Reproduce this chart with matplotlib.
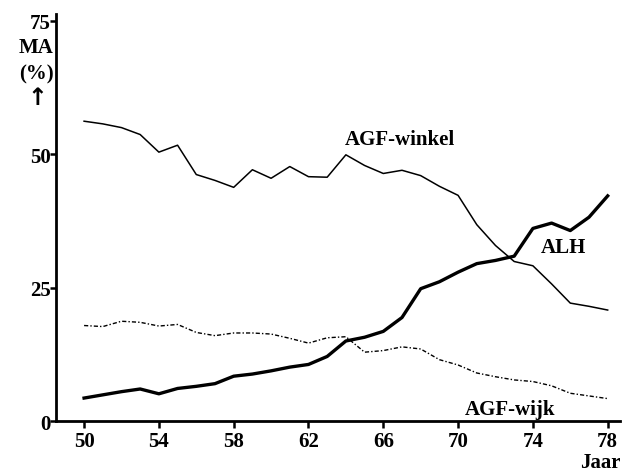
import matplotlib
matplotlib.use('Agg')
import matplotlib.pyplot as plt

plt.rcParams['font.family'] = ['Liberation Serif', 'DejaVu Serif']
plt.rcParams['font.weight'] = 'bold'

# Gegevens (jaar 1950-1978)
jaren = list(range(50, 79))
agf_winkel = [56.2, 55.7, 55.0, 53.7, 50.4, 51.7, 46.2, 45.1, 43.8, 47.1,
              45.5, 47.7, 45.8, 45.7, 49.9, 47.9, 46.4, 47.0, 46.0, 44.0,
              42.3, 36.8, 32.9, 29.9, 29.1, 25.7, 22.1, 21.5, 20.8]
alh = [4.3, 4.9, 5.5, 6.0, 5.1, 6.1, 6.5, 7.0, 8.4, 8.8,
       9.4, 10.1, 10.6, 12.1, 15.0, 15.7, 16.8, 19.4, 24.8, 26.1,
       27.9, 29.5, 30.1, 30.9, 36.1, 37.1, 35.7, 38.2, 42.2]
agf_wijk = [17.9, 17.7, 18.7, 18.5, 17.8, 18.1, 16.6, 16.0, 16.5, 16.5,
            16.3, 15.5, 14.6, 15.6, 15.8, 12.9, 13.2, 13.9, 13.5, 11.5,
            10.5, 9.0, 8.3, 7.7, 7.4, 6.6, 5.2, 4.7, 4.2]
x_ticks = [50, 54, 58, 62, 66, 70, 74, 78]
y_ticks = [0, 25, 50, 75]

fig = plt.figure(figsize=(6.41, 4.77), dpi=100)
ax = fig.add_axes([0.0874, 0.1153, 0.8796, 0.8533])

ax.plot(jaren, agf_winkel, color='black', lw=1.1)
ax.plot(jaren, alh, color='black', lw=2.4)
ax.plot(jaren, agf_wijk, color='black', lw=1.0, linestyle=(0, (3, 1.5, 1, 1.5)))

ax.set_xlim(48.5, 78.65)
ax.set_ylim(0, 76.3)
ax.set_xticks(x_ticks)
ax.set_yticks(y_ticks)
ax.tick_params(axis='x', direction='out', length=5, width=1.8, labelsize=15, pad=2)
ax.tick_params(axis='y', direction='out', length=4, width=1.8, labelsize=15, pad=0)
for s in ['top', 'right']:
    ax.spines[s].set_visible(False)
for s in ['left', 'bottom']:
    ax.spines[s].set_linewidth(2)

ax.text(66.9, 52.9, 'AGF-winkel', fontsize=15, ha='center', va='center')
ax.text(75.65, 32.6, 'ALH', fontsize=15, ha='center', va='center')
ax.text(72.8, 2.2, 'AGF-wijk', fontsize=15, ha='center', va='center')
fig.text(600 / 641, 1 - 463 / 477, 'Jaar', fontsize=15, ha='center', va='center')
fig.text(36 / 641, 1 - 48 / 477, 'MA', fontsize=15, ha='center', va='center')
fig.text(36 / 641, 1 - 74 / 477, '(%)', fontsize=15, ha='center', va='center')
fig.text(37 / 641, 1 - 98 / 477, '\u2191', fontsize=17, ha='center', va='center',
         family=['DejaVu Sans'])

fig.savefig('out.png', dpi=100)
